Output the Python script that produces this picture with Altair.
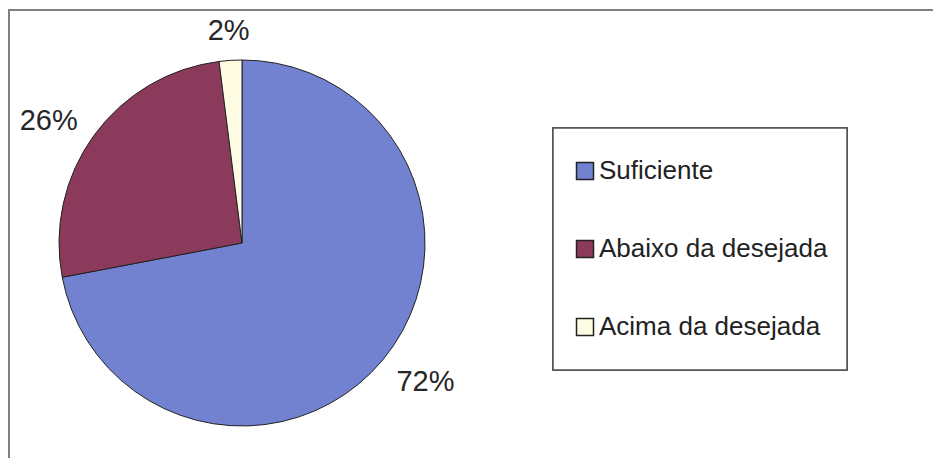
import altair as alt
import pandas as pd

categories = ["Suficiente", "Abaixo da desejada", "Acima da desejada"]
values = [72, 26, 2]
labels = ["72%", "26%", "2%"]
colors = ["#7282d0", "#8b3a5b", "#fdfbe1"]

df = pd.DataFrame({
    "cat": categories,
    "value": values,
    "label": labels,
    "order": list(range(len(categories))),
})

W, H = 925, 450
CX, CY = 234, 235

frame_top = alt.Chart(df).mark_rule(color="#808080", strokeWidth=2).encode(
    x=alt.value(0), x2=alt.value(W), y=alt.value(2)
)
frame_left = alt.Chart(df).mark_rule(color="#808080", strokeWidth=2).encode(
    x=alt.value(1), y=alt.value(2), y2=alt.value(H)
)
legend_box = alt.Chart(df).mark_rect(fill="white", stroke="#555555", strokeWidth=1.5).encode(
    x=alt.value(545), x2=alt.value(839), y=alt.value(120), y2=alt.value(362)
)

pie = alt.Chart(df).mark_arc(radius=183, stroke="#222222", strokeWidth=1).encode(
    theta=alt.Theta("value:Q", stack=True),
    order=alt.Order("order:Q"),
    x=alt.value(CX), y=alt.value(CY),
    color=alt.Color(
        "cat:N",
        scale=alt.Scale(domain=categories, range=colors),
        sort=categories,
        legend=alt.Legend(
            title=None,
            orient="none",
            legendX=564,
            legendY=150,
            symbolType="square",
            symbolSize=289,
            symbolStrokeColor="#222222",
            symbolStrokeWidth=1.5,
            labelFont="Liberation Sans",
            labelFontSize=26,
            labelColor="#222222",
            labelOffset=1,
            rowPadding=52,
            padding=0,
            labelLimit=400,
        ),
    ),
)

label_base = alt.Chart(df).transform_window(
    cum="sum(value)", sort=[alt.SortField("order")], frame=[None, 0]
).transform_calculate(
    mid="datum.cum - datum.value / 2"
)

theta_mid = alt.Theta("mid:Q", stack=None, scale=alt.Scale(domain=[0, 100], range=[0, 6.283185307]))


def label_layer(lbl, radius, dx, dy):
    return label_base.transform_filter(alt.datum.label == lbl).mark_text(
        radius=radius, dx=dx, dy=dy, font="Liberation Sans", fontSize=29, color="#262626"
    ).encode(theta=theta_mid, x=alt.value(CX), y=alt.value(CY), text="label:N")


text_72 = label_layer("72%", 229, 7, -7)
text_26 = label_layer("26%", 229, -8, 13)
text_2 = label_layer("2%", 212, 0, 0)

chart = alt.layer(frame_top, frame_left, legend_box, pie, text_72, text_26, text_2).properties(
    width=W, height=H,
    autosize=alt.AutoSizeParams(type="none"),
    padding=0,
    background="white",
).configure_view(stroke=None).resolve_scale(theta="independent")

chart.save("out.html", embed_options={"renderer": "svg", "actions": False})
